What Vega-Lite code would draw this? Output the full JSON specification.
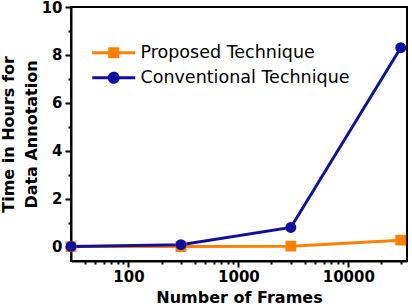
{
  "$schema": "https://vega.github.io/schema/vega-lite/v6.json",
  "width": 336,
  "height": 254,
  "autosize": {"type": "none"},
  "padding": {"left": 71, "top": 7, "right": 5, "bottom": 45},
  "background": "white",
  "config": {
    "view": {"stroke": "black", "strokeWidth": 2},
    "font": "DejaVu Sans"
  },
  "data": {
    "values": [
      {"frames": 30, "hours": 0.0, "series": "Proposed Technique"},
      {"frames": 300, "hours": 0.0, "series": "Proposed Technique"},
      {"frames": 3000, "hours": 0.02, "series": "Proposed Technique"},
      {"frames": 30000, "hours": 0.27, "series": "Proposed Technique"},
      {"frames": 30, "hours": 0.01, "series": "Conventional Technique"},
      {"frames": 300, "hours": 0.08, "series": "Conventional Technique"},
      {"frames": 3000, "hours": 0.8, "series": "Conventional Technique"},
      {"frames": 30000, "hours": 8.3, "series": "Conventional Technique"}
    ]
  },
  "resolve": {"axis": {"x": "independent", "y": "independent"}},
  "layer": [
    {
      "mark": {"type": "line", "strokeWidth": 3, "clip": true},
      "encoding": {
        "x": {
          "field": "frames", "type": "quantitative",
          "scale": {"type": "log", "domain": [30, 34200], "nice": false},
          "axis": {
            "orient": "bottom", "values": [100, 1000, 10000], "format": "d",
            "title": "Number of Frames", "titleFontSize": 16, "titleFontWeight": "bold",
            "titleColor": "black", "titlePadding": 5,
            "labelFontSize": 15, "labelFontWeight": "bold", "labelColor": "black",
            "labelPadding": 2, "tickSize": 6, "tickWidth": 2, "tickColor": "black",
            "domainColor": "black", "domainWidth": 2, "grid": false
          }
        },
        "y": {
          "field": "hours", "type": "quantitative",
          "scale": {"domain": [-0.6, 10], "nice": false, "zero": false},
          "axis": {
            "orient": "left", "values": [0, 2, 4, 6, 8, 10],
            "title": ["Time in Hours for", "Data Annotation"],
            "titleFontSize": 16, "titleFontWeight": "bold", "titleColor": "black",
            "titleLineHeight": 23, "titlePadding": 2,
            "labelFontSize": 15, "labelFontWeight": "bold", "labelColor": "black",
            "labelPadding": 3, "tickSize": 6, "tickWidth": 2, "tickColor": "black",
            "domainColor": "black", "domainWidth": 2, "grid": false
          }
        },
        "color": {
          "field": "series", "type": "nominal",
          "scale": {"domain": ["Proposed Technique", "Conventional Technique"], "range": ["#FF8000", "#1010A0"]},
          "legend": {
            "orient": "none", "legendX": 34, "legendY": 37, "title": null,
            "padding": 0, "symbolSize": 100, "symbolStrokeWidth": 0,
            "labelFontSize": 17.5, "labelColor": "black", "labelOffset": 18,
            "rowPadding": 6, "labelLimit": 300,
            "encode": {
              "symbols": {
                "update": {
                  "shape": {"signal": "datum.value == 'Proposed Technique' ? 'M-4.3,-0.3H4.3V0.3H-4.3Z M-1.1,-1.1H1.1V1.1H-1.1Z' : 'M-4.3,-0.3H4.3V0.3H-4.3Z M-1.2,0A1.2,1.2 0 1,1 1.2,0A1.2,1.2 0 1,1 -1.2,0Z'"},
                  "fill": {"signal": "datum.value == 'Proposed Technique' ? '#FF8000' : '#1010A0'"},
                  "strokeWidth": {"value": 0},
                  "opacity": {"value": 1}
                }
              }
            }
          }
        },
        "detail": {"field": "series"}
      }
    },
    {
      "transform": [{"filter": "datum.series == 'Proposed Technique'"}],
      "mark": {"type": "point", "filled": true, "opacity": 1, "size": 115, "shape": "square"},
      "encoding": {
        "x": {"field": "frames", "type": "quantitative", "axis": {
          "orient": "bottom", "values": [40,50,60,70,80,90,200,300,400,500,600,700,800,900,2000,3000,4000,5000,6000,7000,8000,9000,20000,30000],
          "labels": false, "domain": false, "title": null, "tickSize": 3, "tickWidth": 2, "tickColor": "black", "grid": false}},
        "y": {"field": "hours", "type": "quantitative", "axis": {
          "orient": "left", "values": [1,3,5,7,9],
          "labels": false, "domain": false, "title": null, "tickSize": 3, "tickWidth": 2, "tickColor": "black", "grid": false}},
        "color": {"field": "series", "type": "nominal", "legend": null}
      }
    },
    {
      "transform": [{"filter": "datum.series == 'Conventional Technique'"}],
      "mark": {"type": "point", "filled": true, "opacity": 1, "size": 120, "shape": "circle"},
      "encoding": {
        "x": {"field": "frames", "type": "quantitative", "axis": null},
        "y": {"field": "hours", "type": "quantitative", "axis": null},
        "color": {"field": "series", "type": "nominal", "legend": null}
      }
    }
  ]
}
